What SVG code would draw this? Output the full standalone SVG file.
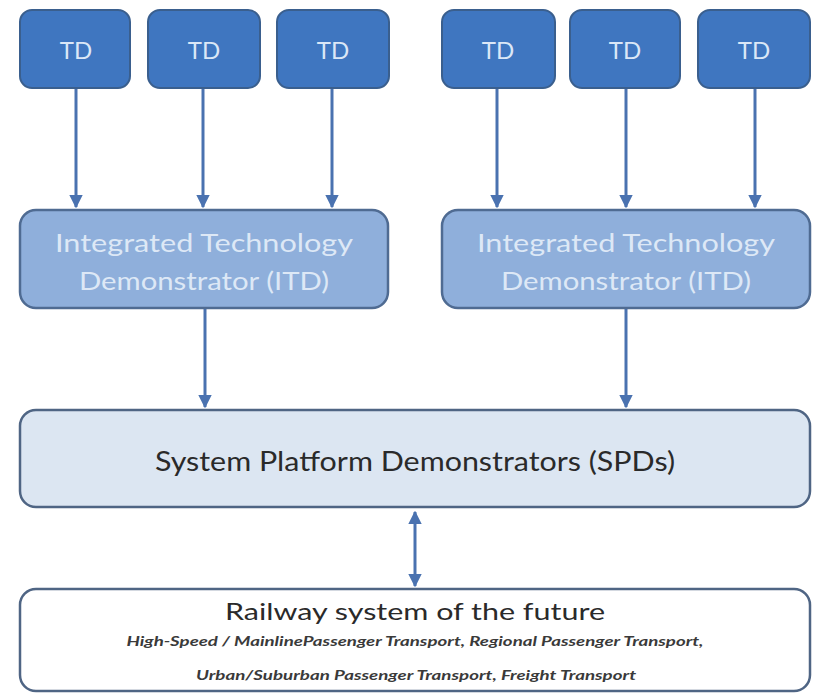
<svg xmlns="http://www.w3.org/2000/svg" width="817" height="694" viewBox="0 0 817 694">
<style>
.td rect{fill:#3f76c0;stroke:#3a5f8e;stroke-width:2}
.td text{fill:#dbe7f7;font-family:Lato,"Open Sans",sans-serif;font-size:24px;text-anchor:middle}
.itd rect{fill:#8fafdb;stroke:#4f6b92;stroke-width:2.5}
.itd text{fill:#dde8f6;font-family:Lato,"Open Sans",sans-serif;font-size:25px;text-anchor:middle}
.spd rect{fill:#dce6f2;stroke:#4f6584;stroke-width:2.5}
.dark{fill:#2a2a2a;font-family:Lato,"Open Sans",sans-serif;text-anchor:middle}
.conn line{stroke:#4a72b0;stroke-width:3}
</style>
<defs>
<marker id="ah" viewBox="0 0 10 10" refX="9" refY="5" markerWidth="4.5" markerHeight="4.5" orient="auto-start-reverse" markerUnits="strokeWidth">
<path d="M0,0 L10,5 L0,10 z" fill="#4a72b0"/>
</marker>
</defs>
<rect width="817" height="694" fill="#ffffff"/>
<g class="conn">
<line x1="76" y1="88" x2="76" y2="207" marker-end="url(#ah)"/>
<line x1="203" y1="88" x2="203" y2="207" marker-end="url(#ah)"/>
<line x1="332" y1="88" x2="332" y2="207" marker-end="url(#ah)"/>
<line x1="497" y1="88" x2="497" y2="207" marker-end="url(#ah)"/>
<line x1="626" y1="88" x2="626" y2="207" marker-end="url(#ah)"/>
<line x1="755" y1="88" x2="755" y2="207" marker-end="url(#ah)"/>
<line x1="205" y1="308" x2="205" y2="407" marker-end="url(#ah)"/>
<line x1="626" y1="308" x2="626" y2="407" marker-end="url(#ah)"/>
<line x1="415" y1="512" x2="415" y2="586" marker-start="url(#ah)" marker-end="url(#ah)"/>
</g>
<g id="td1" class="td"><rect x="20" y="10" width="110" height="78" rx="12"/><text x="76" y="59">TD</text></g>
<g id="td2" class="td"><rect x="148" y="10" width="112" height="78" rx="12"/><text x="204" y="59">TD</text></g>
<g id="td3" class="td"><rect x="277" y="10" width="112" height="78" rx="12"/><text x="333" y="59">TD</text></g>
<g id="td4" class="td"><rect x="442" y="10" width="113" height="78" rx="12"/><text x="498" y="59">TD</text></g>
<g id="td5" class="td"><rect x="570" y="10" width="110" height="78" rx="12"/><text x="625" y="59">TD</text></g>
<g id="td6" class="td"><rect x="698" y="10" width="112" height="78" rx="12"/><text x="754" y="59">TD</text></g>
<g id="itd1" class="itd"><rect x="20" y="210" width="368" height="98" rx="16"/>
<text x="204" y="252" textLength="298" lengthAdjust="spacingAndGlyphs">Integrated Technology</text>
<text x="204" y="290" textLength="250" lengthAdjust="spacingAndGlyphs">Demonstrator (ITD)</text></g>
<g id="itd2" class="itd"><rect x="442" y="210" width="368" height="98" rx="16"/>
<text x="626" y="252" textLength="298" lengthAdjust="spacingAndGlyphs">Integrated Technology</text>
<text x="626" y="290" textLength="250" lengthAdjust="spacingAndGlyphs">Demonstrator (ITD)</text></g>
<g id="spd" class="spd"><rect x="20" y="410" width="790" height="97" rx="16"/>
<text class="dark" x="415" y="471" font-size="27" textLength="520" lengthAdjust="spacingAndGlyphs">System Platform Demonstrators (SPDs)</text></g>
<g id="railway" class="spd"><rect x="20" y="589" width="790" height="102" rx="16" style="fill:#ffffff"/>
<text class="dark" x="415" y="620" font-size="24" textLength="380" lengthAdjust="spacingAndGlyphs">Railway system of the future</text>
<text class="dark" x="415" y="646" font-size="13" font-style="italic" font-weight="bold" textLength="577" lengthAdjust="spacingAndGlyphs" style="fill:#3a3a3a">High-Speed / MainlinePassenger Transport, Regional Passenger Transport,</text>
<text class="dark" x="416" y="680" font-size="13" font-style="italic" font-weight="bold" textLength="440" lengthAdjust="spacingAndGlyphs" style="fill:#3a3a3a">Urban/Suburban Passenger Transport, Freight Transport</text></g>
</svg>
